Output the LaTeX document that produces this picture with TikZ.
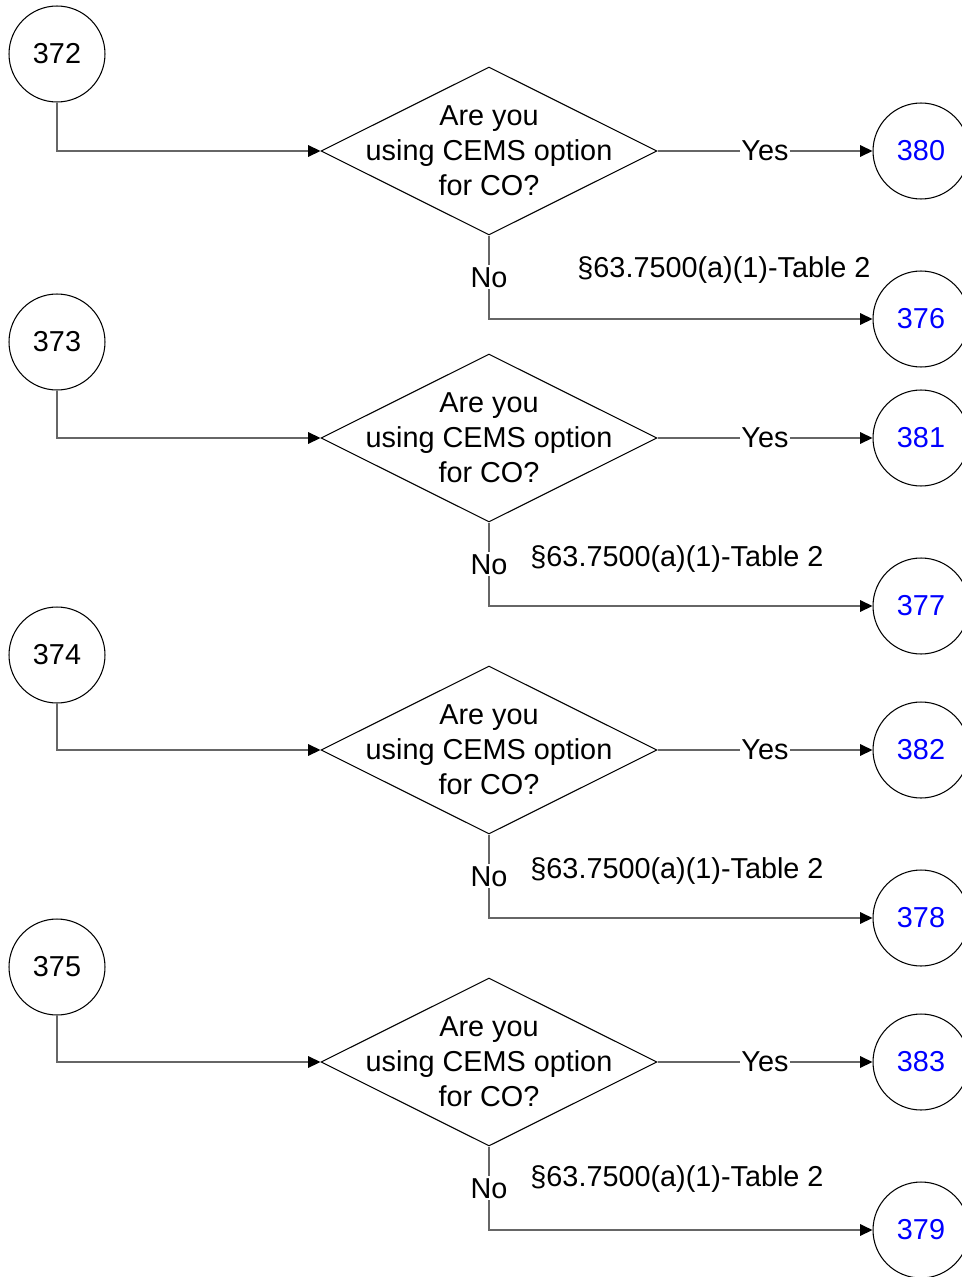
\documentclass[tikz,border=0pt]{standalone}
\usepackage{fontspec}
\setmainfont{Liberation Sans}
\usetikzlibrary{arrows.meta, shapes.geometric}

\begin{document}
\begin{tikzpicture}[
    x=0.02cm, y=-0.02cm,
    every node/.style={font=\fontsize{16.4}{19.8}\selectfont, align=center, text=black},
    arr/.style={-{Triangle[length=7pt, width=6.5pt, color=black]}, line width=0.85pt, draw=black!60},
    startcirc/.style={circle, draw=black, line width=0.6pt, minimum size=1.92cm, inner sep=0pt},
    endcirc/.style={circle, draw=black, line width=0.6pt, minimum size=1.92cm, inner sep=0pt, text=blue},
    decision/.style={diamond, draw=black, line width=0.6pt,
      minimum width=6.72cm, minimum height=3.36cm, inner sep=0pt},
    onlabel/.style={fill=white, inner sep=1pt},
    reflabel/.style={inner sep=0pt}
  ]

    \clip (0,0) rectangle (962,1277);

    % four identical CO questions
    \foreach \i/\start/\yes/\no/\sy/\qy/\ny/\rx/\ry in {
        1/372/380/376/54/151/319/724/270,
        2/373/381/377/342/438/606/677/559,
        3/374/382/378/655/750/918/677/871,
        4/375/383/379/967/1062/1230/677/1179} {

      \node[startcirc] (s\i) at (57,\sy) {\start};

      \node[decision,
        label={center:Are you\\using CEMS option\\for CO?}] (q\i) at (489,\qy) {};

      \node[endcirc] (y\i) at (921,\qy) {\yes};
      \node[endcirc] (n\i) at (921,\ny) {\no};

      \node[reflabel] (ref\i) at (\rx,\ry) {§63.7500(a)(1)-Table 2};

      \draw[arr] (s\i.south) |- (q\i.west);
      \draw[arr] (q\i.east) -- node[onlabel] {Yes} (y\i.west);
      \draw[arr] (q\i.south) |- node[onlabel, pos=0.25] {No} (n\i.west);
    }

  \end{tikzpicture}
\end{document}
